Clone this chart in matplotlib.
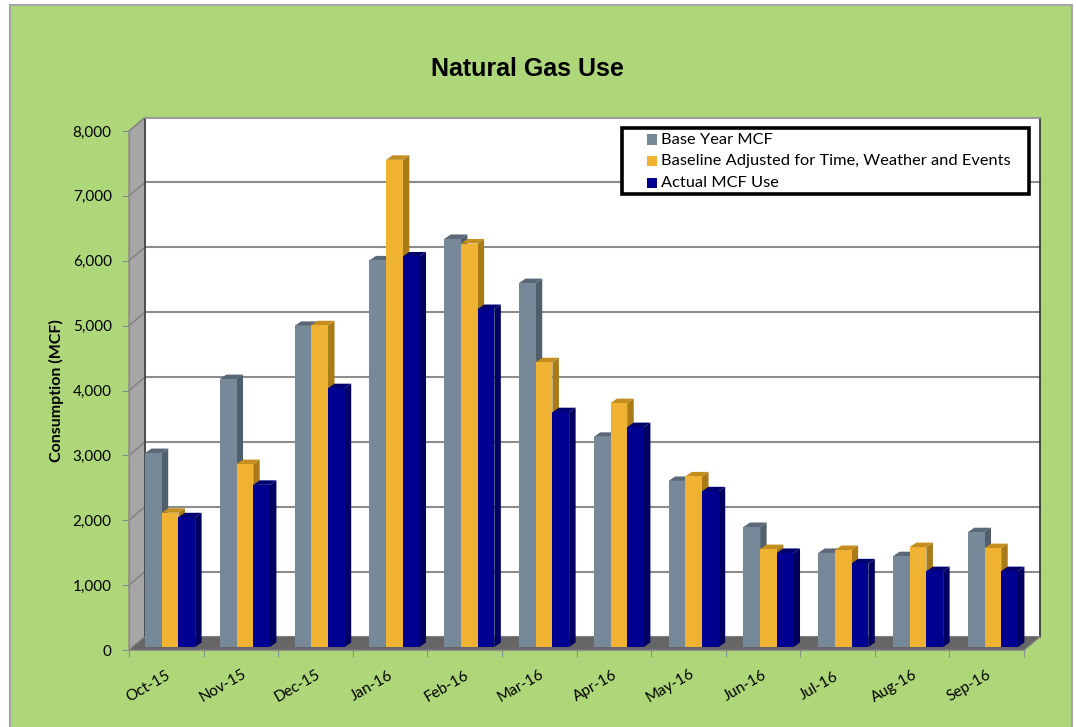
import matplotlib
matplotlib.use("Agg")
import matplotlib.pyplot as plt
from matplotlib.patches import Polygon, Rectangle

# data
months = ["Oct-15", "Nov-15", "Dec-15", "Jan-16", "Feb-16", "Mar-16",
          "Apr-16", "May-16", "Jun-16", "Jul-16", "Aug-16", "Sep-16"]
base_year = [2990, 4130, 4950, 5960, 6290, 5610, 3240, 2560, 1850, 1450, 1400, 1770]
adjusted = [2070, 2820, 4960, 7510, 6220, 4390, 3760, 2630, 1510, 1495, 1540, 1525]
actual = [2000, 2500, 3990, 6020, 5210, 3620, 3390, 2400, 1450, 1290, 1170, 1170]
yticks = [0, 1000, 2000, 3000, 4000, 5000, 6000, 7000, 8000]

series = [("Base Year MCF", base_year, "#778899", "#4F5F6E", "#5A6877"),
          ("Baseline Adjusted for Time, Weather and Events", adjusted, "#F0B232", "#A87A18", "#C48F1F"),
          ("Actual MCF Use", actual, "#000090", "#000060", "#00006E")]

W, H = 1076, 727
BG = "#AED77A"
fig = plt.figure(figsize=(W / 100, H / 100), dpi=100, facecolor="white")
fig.add_artist(Rectangle((9.5 / W, -5 / H), 1062.5 / W, 727.5 / H, transform=fig.transFigure,
                         facecolor=BG, edgecolor="#A6A6A6", lw=1.5, zorder=-1))

# axes = front plane of the 3d box
ax = fig.add_axes([129 / W, 1 - 650 / H, 895 / W, 519 / H])
ax.set_xlim(0, 12)
ax.set_ylim(0, 8000)
ax.patch.set_alpha(0)
for s in ["top", "right"]:
    ax.spines[s].set_visible(False)
for s in ["left", "bottom"]:
    ax.spines[s].set_color("#8C8C8C")

# oblique depth, in data units
px = 12 / 895
py = 8000 / 519
DX = 16 * px
DY = 13.5 * py


def shift(x, y, d):
    return (x + d * DX, y + d * DY)


ax.add_patch(Polygon([shift(0, 0, 1), shift(12, 0, 1), shift(12, 8000, 1), shift(0, 8000, 1)],
                     facecolor="white", edgecolor="none", zorder=1, clip_on=False))
ax.add_patch(Polygon([(0, 0), shift(0, 0, 1), shift(0, 8000, 1), (0, 8000)],
                     facecolor="#A6A6A6", edgecolor="#808080", lw=0.8, zorder=1, clip_on=False))
ax.add_patch(Polygon([(0, 0), (12, 0), shift(12, 0, 1), shift(0, 0, 1)],
                     facecolor="#666666", edgecolor="#808080", lw=0.8, zorder=2, clip_on=False))

for v in yticks[1:]:
    ax.plot(*zip((0, v), shift(0, v, 1)), color="#808080", lw=1, zorder=1.5, clip_on=False)
    ax.plot(*zip(shift(0, v, 1), shift(12, v, 1)), color="#8C8C8C", lw=1.5, zorder=1.5, clip_on=False)
ax.plot(*zip(shift(0, 0, 1), shift(0, 8000, 1)), color="#404040", lw=1.2, zorder=1.6, clip_on=False)
ax.plot(*zip(shift(12, 0, 1), shift(12, 8000, 1)), color="#303030", lw=1.2, zorder=1.6, clip_on=False)
ax.plot(*zip(shift(0, 8000, 1), shift(12, 8000, 1)), color="#A0A0A0", lw=1.2, zorder=1.6, clip_on=False)
ax.plot(*zip((12, 0), shift(12, 0, 1)), color="#808080", lw=1, zorder=1.6, clip_on=False)

# bars, front face sits a bit inside the floor, sides go back at their own slant
bw = 16.7 * px
d0 = 0.22
side_x = 6.5 * px
side_y = 4.5 * py
pitch = 74.8 * px
for i in range(12):
    left = i * pitch + 12.5 * px
    for j, (name, vals, col, side, top) in enumerate(series):
        v = vals[i]
        x0 = left + j * bw
        x1 = x0 + bw
        z = 3 + i + j * 0.1
        a = shift(x0, 0, d0)
        b = shift(x1, 0, d0)
        c = shift(x1, v, d0)
        e = shift(x0, v, d0)
        b2 = (b[0] + side_x, b[1] + side_y)
        c2 = (c[0] + side_x, c[1] + side_y)
        e2 = (e[0] + side_x, e[1] + side_y)
        ax.add_patch(Polygon([b, b2, c2, c], facecolor=side, edgecolor="none", zorder=z, clip_on=False))
        ax.add_patch(Polygon([e, c, c2, e2], facecolor=top, edgecolor="none", zorder=z, clip_on=False))
        ax.add_patch(Polygon([a, b, c, e], facecolor=col, edgecolor="none", zorder=z + 0.01, clip_on=False))

ax.set_xticks(range(13))
ax.set_xticklabels([])
ax.tick_params(axis="x", length=5, color="#8C8C8C")
ax.tick_params(axis="y", length=5, color="#8C8C8C", pad=7.5)
ax.set_yticks(yticks)
ax.set_yticklabels([f"{v:,}" for v in yticks], fontname="Lato", fontsize=11)
for i, m in enumerate(months):
    ax.annotate(m, xy=(i + 0.5, 0), xytext=(-13, -26), textcoords="offset points", rotation=30,
                ha="center", va="center", fontname="Lato", fontsize=11)
fig.text(56 / W, 1 - 391 / H, "Consumption (MCF)", rotation=90, fontname="Lato", fontweight="bold",
         fontsize=11.5, ha="center", va="center")

fig.text(527 / W, 1 - 68.5 / H, "Natural Gas Use", fontname="Liberation Sans", fontweight="bold",
         fontsize=18, ha="center", va="center")

# legend, drawn by hand to hold the thick black frame at its place
fig.add_artist(Rectangle((622 / W, 1 - 194 / H), 407 / W, 66 / H, transform=fig.transFigure,
                         facecolor="white", edgecolor="black", lw=2.6, zorder=20))
for k, (name, vals, col, side, top) in enumerate(series):
    yp = 139.5 + k * 21.8
    fig.add_artist(Rectangle((647 / W, 1 - (yp + 5) / H), 10 / W, 10 / H, transform=fig.transFigure,
                             facecolor=col, edgecolor="none", zorder=21))
    fig.text(661 / W, 1 - yp / H, name, fontname="Lato", fontsize=11.8, va="center", zorder=21)

fig.savefig("out.png", dpi=100)
